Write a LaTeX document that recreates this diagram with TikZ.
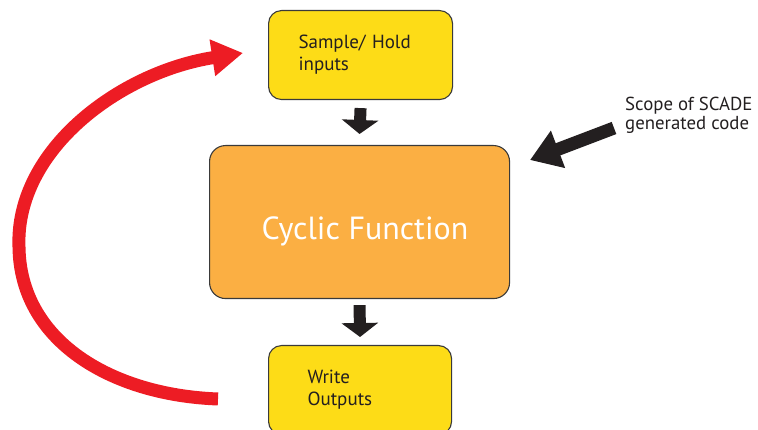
\documentclass[tikz,border=0pt]{standalone}
\usepackage{fontspec}
\setmainfont{PT Sans}
\usetikzlibrary{arrows.meta,calc}
\definecolor{boxyellow}{HTML}{FDDC17}
\definecolor{boxorange}{HTML}{FBAF43}
\definecolor{loopred}{HTML}{ED1C24}
\definecolor{arrowblack}{HTML}{231F20}
\definecolor{boxedge}{HTML}{3A3A3A}
\tikzset{
  stagebox/.style={draw=boxedge, line width=1.1pt, rounded corners=13pt,
    anchor=north west, align=left, minimum height=89pt,
    font=\fontsize{19}{22}\selectfont, text=arrowblack},
  ybox/.style={stagebox, fill=boxyellow},
  obox/.style={stagebox, fill=boxorange, rounded corners=16pt},
  blockarrow/.style={draw=arrowblack, line width=12pt,
    -{Triangle[length=14pt,width=36pt]}, arrowblack},
  loopback/.style={draw=loopred, line width=13pt,
    -{Triangle[length=31pt,width=35pt]}, loopred},
}
\begin{document}
\begin{tikzpicture}[x=1pt,y=-1pt]
\useasboundingbox (0,0) rectangle (758,430);

% processing stages
\node[ybox, text width=124pt, inner xsep=30pt] (sample) at (268,10)
  {Sample/ Hold\\inputs};
\node[obox, minimum width=300pt, minimum height=153pt] (cyclic) at (209,145) {};
\node[anchor=base, text=white, font=\fontsize{32}{38}\selectfont] (cyclabel)
  at (365,240) {Cyclic Function};
\node[ybox, text width=105pt, inner xsep=39pt] (write) at (268,345)
  {Write\\Outputs};

% flow between stages
\draw[blockarrow] ($(sample.south)+(0,8)$) -- ($(cyclic.north)+(0,-11)$);
\draw[blockarrow] ($(cyclic.south)+(0,6)$) -- ($(write.north)+(0,-8)$);

% scope annotation
\node[anchor=base west, align=left, text=arrowblack,
  font=\fontsize{18.8}{19}\selectfont, inner sep=0pt] (scope) at (625,130)
  {Scope of SCADE\\generated code};
\coordinate (scopetail) at (614,128);
\coordinate (scopetip) at (530,160);
\draw[blockarrow, line width=13pt, -{Triangle[length=30pt,width=38pt]}]
  (scopetail) -- (scopetip);

% cycle repeats
\coordinate (loopstart) at (218,399);
\coordinate (loopleft) at (19,247);
\coordinate (loopend) at (243,53);
\draw[loopback] (loopstart) .. controls (110,395) and (20,340) .. (loopleft)
  .. controls (15,150) and (120,72) .. (loopend);
\end{tikzpicture}
\end{document}
